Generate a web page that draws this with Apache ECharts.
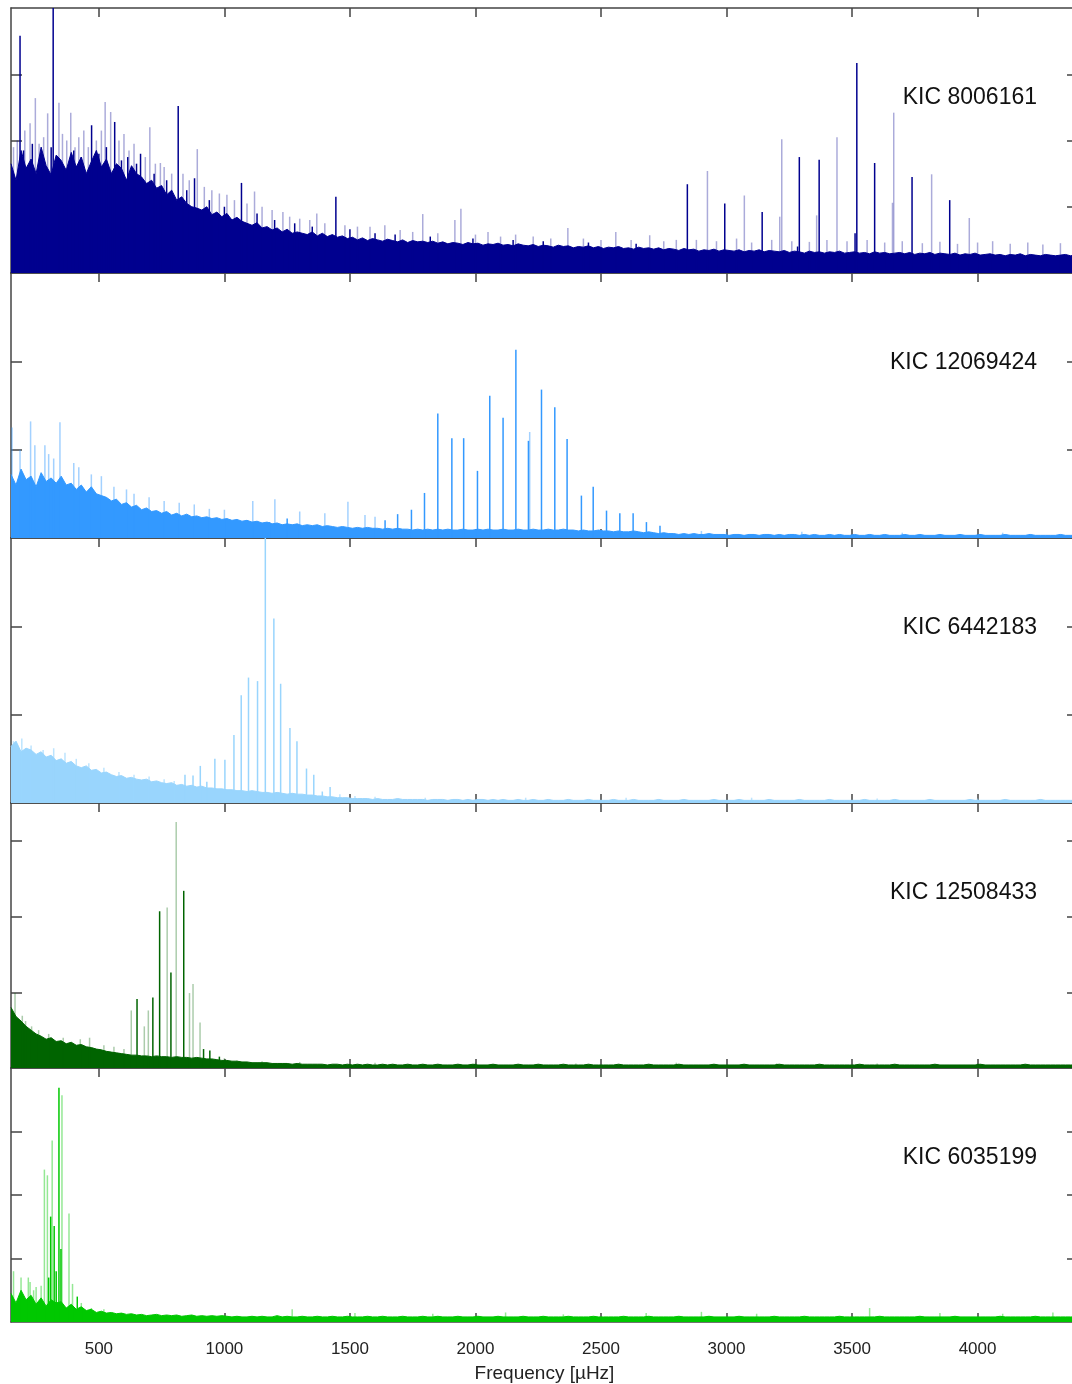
<!DOCTYPE html>
<html><head><meta charset="utf-8">
<script src="https://cdn.jsdelivr.net/npm/echarts@6/dist/echarts.min.js"></script>
<style>html,body{margin:0;padding:0;background:#fff;overflow:hidden}#c{width:1100px;height:1384px}</style>
</head><body><div id="c"></div>
<script>
// ---------- data ----------
const FREQ_START = 150, FREQ_STEP = 20;          // frequency grid of the background spectrum (µHz)
const X_MIN = 150, X_MAX = 4400;
const xTicks = [500, 1000, 1500, 2000, 2500, 3000, 3500, 4000];
const kicLabels = ['KIC 8006161', 'KIC 12069424', 'KIC 6442183', 'KIC 12508433', 'KIC 6035199'];
const yMax = [400, 300, 300, 350, 400];
const yTicks = [[100, 200, 300], [100, 200], [100, 200], [100, 200, 300], [100, 200, 300]];

// background power (hundredths of a tick unit), one value per grid step
const noise1 = [165,140,185,158,172,150,190,162,148,178,170,155,182,160,175,150,168,185,
160,172,150,165,158,140,162,150,145,135,
140,128,132,118,125,110,115,105,100,98,
95,100,88,92,85,90,80,84,78,75,
72,76,68,70,65,68,62,66,60,62,
60,58,62,56,60,55,58,54,56,52,
54,50,53,49,52,50,48,51,49,47,50,46,49,47,48,
46,48,45,47,44,46,45,43,46,44,45,42,44,43,45,42,43,41,44,42,
41,43,40,42,41,39,42,40,41,38,40,39,41,38,40,37,39,38,40,37,38,36,39,37,38,
36,38,35,37,36,34,37,35,36,33,35,34,36,33,35,34,33,35,32,34,33,35,32,34,33,
32,34,31,33,32,30,33,31,32,30,32,31,33,30,31,32,30,31,29,32,30,31,29,30,31,
29,31,28,30,29,31,28,30,29,28,30,27,29,28,30,27,28,29,27,28,26,28,27,29,26,28,27,26,28,27,26,27,28,26,27];
const noise2 = [72,60,78,66,70,58,74,64,68,62,70,60,
62,55,60,52,58,50,48,46,42,
44,38,40,35,37,32,34,30,
31,28,30,26,28,25,27,24,25,23,
24,22,23,21,22,20,21,19,20,18,
19,17,18,16,17,15,16,15,16,14,15,14,15,13,
14,13,12,13,12,11,12,11,12,11,11,10,11,10,11,10,10,9,10,9,
10,9,10,9,10,9,9,10,9,9,10,9,10,9,9,10,9,9,10,9,9,10,9,9,10,9,9,10,9,9,8,9,8,8,9,8,8,7,8,7,7,8,7,6,7,
6,5,6,5,5,4,5,4,5,4,4,5,4,4,4,3,4,4,3,4,4,3,4,4,3,4,3,4,4,3,4,3,4,3,3,4,3,4,3,3,
4,3,3,4,3,3,4,3,3,3,4,3,3,4,3,3,3,4,3,3,3,4,3,3,3,4,3,3,3,3,4,3,3,3,3,4,3,3,3,3,3,4,3,3,3];
const noise3 = [64,70,58,62,60,55,58,52,54,48,50,
45,47,42,40,42,37,38,34,35,32,
30,31,28,29,27,26,27,24,25,23,
22,23,20,21,19,20,18,19,17,17,
16,16,15,15,14,14,13,14,13,12,
12,11,12,11,10,11,10,10,9,9,
8,8,7,7,6,6,6,5,5,5,
5,4,5,4,4,4,5,4,4,4,4,4,3,4,4,4,3,4,4,3,4,3,4,4,3,4,3,4,3,3,4,3,3,4,3,3,4,3,3,3,
4,3,3,3,4,3,3,3,3,4,3,3,3,4,3,3,3,3,4,3,3,3,3,4,3,3,3,3,3,4,3,3,3,3,4,3,3,3,3,3,
4,3,3,3,3,3,4,3,3,3,3,3,4,3,3,3,3,3,3,4,3,3,3,3,3,4,3,3,3,3,3,3,4,3,3,3,3,3,3,3,
4,3,3,3,3,3,3,4,3,3,3,3,3,3,4,3,3,3,3,3,3,3];
const noise4 = [80,68,62,55,50,45,
42,38,40,35,36,32,34,
30,31,28,27,25,24,22,21,
20,19,18,17,17,16,16,15,16,15,
15,14,15,14,14,13,14,13,12,12,
11,10,10,9,9,8,8,7,7,7,
7,6,6,6,6,5,6,5,5,5,
5,5,4,5,5,4,5,4,5,4,5,4,4,5,4,5,4,4,5,4,4,5,4,4,5,4,4,4,5,4,4,5,4,4,4,5,4,4,4,4,
5,4,4,4,5,4,4,4,4,5,4,4,4,4,5,4,4,4,4,4,5,4,4,4,4,4,5,4,4,4,4,4,5,4,4,4,4,4,4,5,
4,4,4,4,4,5,4,4,4,4,4,4,5,4,4,4,4,4,4,4,5,4,4,4,4,4,4,4,5,4,4,4,4,4,4,5,4,4,4,4,
4,4,4,5,4,4,4,4,4,4,4,4,5,4,4,4,4,4,4,4,4,5,4,4,4,4,4,4,4,4,4,4];
const noise5 = [45,30,50,35,42,28,
38,25,35,30,32,22,28,20,24,
18,20,15,17,14,15,13,14,
12,13,11,12,10,11,12,10,11,10,11,9,10,11,9,10,9,10,9,10,
9,8,9,8,8,9,8,9,8,8,10,8,9,8,8,9,8,8,9,8,8,9,8,8,9,8,8,8,9,8,8,9,8,8,8,9,8,8,8,9,
8,8,9,8,8,8,9,8,8,8,9,8,8,8,9,8,8,8,8,9,8,8,8,9,8,8,8,8,9,8,8,8,8,9,8,8,8,8,8,9,
8,8,8,8,9,8,8,8,8,8,9,8,8,8,8,8,9,8,8,8,8,8,9,8,8,8,8,8,8,9,8,8,8,8,8,9,8,8,8,8,
8,8,9,8,8,8,8,8,8,8,9,8,8,8,8,8,8,8,9,8,8,8,8,8,8,9,8,8,8,8,8,8,8,8,9,8,8,8,8,8,
8,9,8,8,8,8,8,8,8,8];

// resolved mode peaks [frequency µHz, power] — strong (solid) and faint (light) lines
const strong1 = [[186,358],[318,420],[471,223],[563,228],[666,180],[816,252],[881,143],[1068,136],[1444,115],
[2844,134],[2993,105],[3142,92],[3290,175],[3369,171],[3519,317],[3590,166],[3739,145],[3889,110],[3512,60],[3283,40],
[200,185],[235,195],[270,180],[310,190],[400,185],[430,175],[500,180],[530,190],[590,170],[615,175],[650,165],
[720,150],[770,140],[850,125],[940,110],[1000,100],[1130,90],[1200,80],[1280,75],[1350,70],[1500,66],[1600,60],
[1680,58],[1820,55],[1990,52],[2150,50],[2270,48],[2450,46],[2640,44]];
const faint1 = [[2924,154],[3071,117],[3220,202],[3212,85],[3359,87],[3440,205],[3661,106],[3666,242],[3817,149],[3967,83],
[160,190],[175,200],[205,215],[226,226],[247,264],[262,195],[280,205],[296,241],[341,257],[355,210],[372,200],[388,242],
[405,190],[420,205],[440,215],[458,190],[490,200],[510,215],[525,258],[547,243],[580,200],[600,210],[620,185],[640,195],
[685,175],[703,220],[725,165],[745,166],[760,160],[790,150],[835,150],[860,140],[892,187],[920,130],[950,125],[980,120],
[1010,118],[1040,110],[1090,105],[1120,123],[1150,100],[1190,95],[1233,92],[1260,85],[1300,82],[1340,80],[1368,90],
[1400,75],[1480,72],[1530,70],[1580,70],[1639,72],[1700,65],[1750,62],[1790,89],[1850,60],[1918,80],[1942,97],[2000,58],
[2050,62],[2100,55],[2160,58],[2230,55],[2300,52],[2368,68],[2430,52],[2500,50],[2559,62],[2620,50],[2694,57],[2750,48],
[2800,50],[2880,50],[2960,48],[3040,52],[3100,46],[3180,50],[3260,48],[3330,47],[3400,50],[3480,48],[3560,50],[3630,46],
[3700,48],[3780,45],[3850,47],[3920,44],[4000,46],[4060,48],[4130,44],[4200,46],[4260,43],[4330,45],[4380,42]];
const strong2 = [[1850,141],[1906,113],[1953,113],[2008,76],[2057,161],[2110,136],[2161,213],[2211,110],[2263,168],
[2316,148],[2365,112],[2422,48],[2469,58],[2522,31],[2575,28],[2628,28],[2681,18],[2735,14],[1797,51],[1745,32],
[1690,27],[1640,20],[1250,22],[1180,18]];
const faint2 = [[154,125],[186,100],[228,132],[245,105],[285,105],[345,131],[300,95],[320,90],[400,85],[420,80],[470,72],
[510,70],[560,58],[610,55],[640,50],[700,46],[760,42],[820,40],[880,38],[940,33],[1000,32],[1113,42],[1201,44],[1300,30],
[1400,28],[1492,41],[1560,26],[1600,24],[2216,120],[2900,8],[3000,7],[3300,7],[3700,6],[4100,6]];
const strong3 = [[1163,320],[1197,209],[1096,142],[1132,138],[1067,122],[1224,135],[1038,77],[1261,85],[1289,70],
[1002,49],[962,50],[904,42],[875,31],[843,32],[1327,39],[1356,32],[1421,18],[1390,13],[930,24]];
const faint3 = [[160,70],[193,73],[230,65],[278,60],[320,62],[365,57],[410,50],[460,45],[520,40],[580,35],[640,32],
[700,30],[760,27],[800,25],[1460,10],[1520,8],[1600,7],[1800,6],[2200,6],[2600,6],[3100,6],[3600,5],[4000,5]];
const strong4 = [[838,234],[742,207],[787,126],[715,93],[652,91],[917,25],[942,23],[980,15]];
const faint4 = [[808,325],[772,212],[861,99],[875,111],[903,60],[697,76],[681,55],[629,76],[166,99],[195,69],[208,62],
[232,55],[260,50],[300,45],[358,40],[426,38],[463,40],[520,30],[560,28],[600,25],[1000,13],[1050,10],[1150,9],[1300,8],
[1600,7],[2000,7],[2400,6],[2800,7],[3200,6],[3600,6],[4000,6]];
const strong5 = [[341,369],[308,166],[322,151],[349,115],[414,40],[300,70],[330,80]];
const faint5 = [[353,357],[314,286],[283,240],[295,231],[381,171],[160,80],[190,70],[219,70],[226,63],[250,55],[270,57],
[240,50],[395,60],[430,30],[470,22],[520,20],[1270,20],[1520,14],[1830,13],[2120,15],[2350,12],[2680,14],[2900,16],
[3120,13],[3570,22],[3850,14],[4100,13],[4300,15]];

// ---------- styling / layout ----------
const colors = ['#00008f', '#3399ff', '#99d5fd', '#006400', '#00c800'];
const faintColors = ['rgba(0,0,143,0.33)', 'rgba(51,153,255,0.45)', 'rgba(153,213,253,0.65)', 'rgba(0,100,0,0.33)', 'rgba(0,200,0,0.42)'];
const noises = [noise1, noise2, noise3, noise4, noise5];
const strongs = [strong1, strong2, strong3, strong4, strong5];
const faints = [faint1, faint2, faint3, faint4, faint5];

const GRID_LEFT = 11, GRID_W = 1067, GRID_TOP0 = 8, GRID_H = 265;
const axisCol = '#444';
const lineSt = { color: axisCol, width: 1.5 };
const FONT = '"Liberation Sans", Arial, sans-serif';

const grid = [], xAxis = [], yAxis = [], series = [], graphic = [];
for (let k = 0; k < 5; k++) {
  const top = GRID_TOP0 + k * GRID_H;
  grid.push({ left: GRID_LEFT, top: top, width: GRID_W, height: GRID_H, containLabel: false });
  const last = k === 4;
  xAxis.push({
    type: 'value', gridIndex: k, min: X_MIN, max: X_MAX, position: 'bottom',
    axisLine: { show: true, onZero: false, lineStyle: lineSt },
    axisTick: { show: true, inside: true, length: 9, customValues: xTicks, lineStyle: lineSt },
    axisLabel: { show: last, customValues: xTicks, margin: 19, fontSize: 17, color: '#222', fontFamily: FONT,
                 formatter: v => String(v) },
    splitLine: { show: false },
    name: last ? 'Frequency [µHz]' : '', nameLocation: 'middle', nameGap: 42,
    nameTextStyle: { fontSize: 19, color: '#222', fontFamily: FONT }
  });
  xAxis.push({
    type: 'value', gridIndex: k, min: X_MIN, max: X_MAX, position: 'top',
    axisLine: { show: true, onZero: false, lineStyle: lineSt },
    axisTick: { show: true, inside: true, length: 9, customValues: xTicks, lineStyle: lineSt },
    axisLabel: { show: false }, splitLine: { show: false }
  });
  yAxis.push({
    type: 'value', gridIndex: k, min: 0, max: yMax[k], position: 'left',
    axisLine: { show: true, onZero: false, lineStyle: lineSt },
    axisTick: { show: true, inside: true, length: 11, customValues: yTicks[k], lineStyle: lineSt },
    axisLabel: { show: false }, splitLine: { show: false }
  });
  yAxis.push({
    type: 'value', gridIndex: k, min: 0, max: yMax[k], position: 'right',
    axisLine: { show: true, onZero: false, lineStyle: lineSt },
    axisTick: { show: true, inside: true, length: 11, customValues: yTicks[k], lineStyle: lineSt },
    axisLabel: { show: false }, splitLine: { show: false }
  });
  const bg = noises[k].map((v, i) => [FREQ_START + FREQ_STEP * i, v]);
  series.push({
    type: 'line', xAxisIndex: 2 * k, yAxisIndex: 2 * k, data: bg, showSymbol: false, symbol: 'none',
    lineStyle: { color: colors[k], width: 1 }, areaStyle: { color: colors[k], opacity: 1 },
    silent: true, animation: false, sampling: null, clip: true, z: 2
  });
  const pk = faints[k].map(p => ({ value: p, itemStyle: { color: faintColors[k] } }))
    .concat(strongs[k].map(p => ({ value: p, itemStyle: { color: colors[k] } })));
  series.push({
    type: 'bar', xAxisIndex: 2 * k, yAxisIndex: 2 * k, data: pk, barWidth: 1.5,
    silent: true, animation: false, clip: true, z: 3
  });
  graphic.push({
    type: 'text', x: 1037, y: top + 90, z: 100,
    style: { text: kicLabels[k], font: '23px ' + FONT, fill: '#111',
             align: 'right', verticalAlign: 'middle', textAlign: 'right', textVerticalAlign: 'middle' }
  });
}

const chart = echarts.init(document.getElementById('c'), null, { renderer: 'canvas' });
chart.setOption({ animation: false, backgroundColor: '#fff', grid, xAxis, yAxis, series, graphic });
</script></body></html>
